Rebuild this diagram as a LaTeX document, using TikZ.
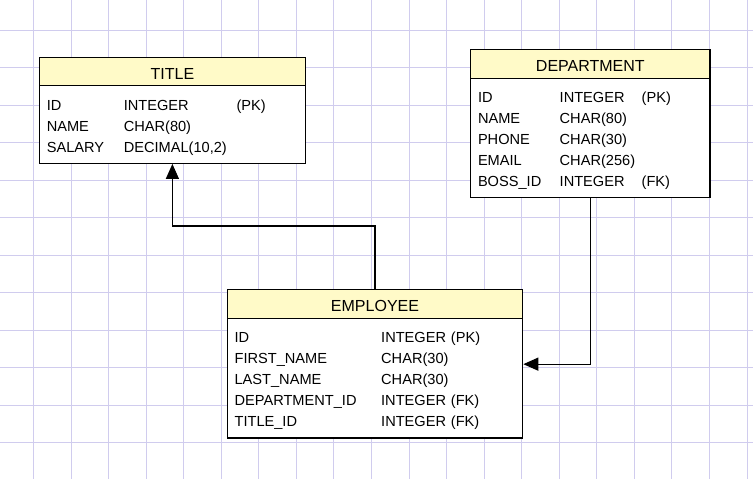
\documentclass[tikz,border=0pt]{standalone}
\usepackage{fontspec}
\setmainfont{Liberation Sans}
\usetikzlibrary{positioning,arrows.meta}
\definecolor{gridcol}{RGB}{208,204,238}
\definecolor{headfill}{RGB}{255,250,200}

\begin{document}
\begin{tikzpicture}[x=1pt,y=-1pt,line width=1.2pt,
  >={Triangle[length=15pt,width=13pt]},shorten >=0.6pt,
  font=\fontsize{14.6}{21}\selectfont,
  gridline/.style={draw=gridcol,line width=0.9pt},
  tablehead/.style={draw,fill=headfill,outer sep=0pt,inner sep=0pt,
    minimum height=29pt,text height=15pt,text depth=0pt,
    font=\fontsize{16}{19}\selectfont},
  tablebody/.style={draw,fill=white,outer sep=0pt,inner xsep=7.3pt,
    inner ysep=0pt,align=left,below=0pt of #1}]
  \useasboundingbox (0,0) rectangle (754,480);
  % background grid
  \foreach \i in {0,...,19}
    \draw[gridline] ({33.5+37.55*\i},0) -- ({33.5+37.55*\i},480);
  \foreach \j in {0,...,11}
    \draw[gridline] (0,{30+37.5*\j}) -- (754,{30+37.5*\j});
  \path
  node[tablehead,minimum width=265.8pt,minimum height=27.6pt] (titlehead) at (172.4,71.5) {TITLE}
  node[tablebody=titlehead,text width=251.2pt,minimum height=78pt] (titlebody) {%
    \begin{tabular}{@{}p{77pt}@{}p{112.8pt}@{}l@{}}
    ID & INTEGER & (PK)\\
    NAME & CHAR(80) & \\
    SALARY & DECIMAL(10,2) & \\[-5pt]
    \end{tabular}}
  node[tablehead,minimum width=239.3pt] (depthead) at (590.35,63.8) {DEPARTMENT}
  node[tablebody=depthead,text width=224.7pt,minimum height=119.4pt] (deptbody) {%
    \begin{tabular}{@{}p{81.7pt}@{}p{82pt}@{}l@{}}
    ID & INTEGER & (PK)\\
    NAME & CHAR(80) & \\
    PHONE & CHAR(30) & \\
    EMAIL & CHAR(256) & \\
    BOSS\_ID & INTEGER & (FK)\\[-4pt]
    \end{tabular}}
  node[tablehead,minimum width=295.4pt] (emphead) at (375,303.8) {EMPLOYEE}
  node[tablebody=emphead,text width=280.8pt,minimum height=119.7pt] (empbody) {%
    \begin{tabular}{@{}p{146.6pt}@{}l@{}}
    ID & INTEGER (PK)\\
    FIRST\_NAME & CHAR(30)\\
    LAST\_NAME & CHAR(30)\\
    DEPARTMENT\_ID & INTEGER (FK)\\
    TITLE\_ID & INTEGER (FK)\\[-4pt]
    \end{tabular}}
  ;
  \draw[->] (emphead.north) -- ++(0,-63.3) -| (titlebody.south);
  \draw[->] (deptbody.south) |- ([yshift=14pt]empbody.east);
\end{tikzpicture}
\end{document}
